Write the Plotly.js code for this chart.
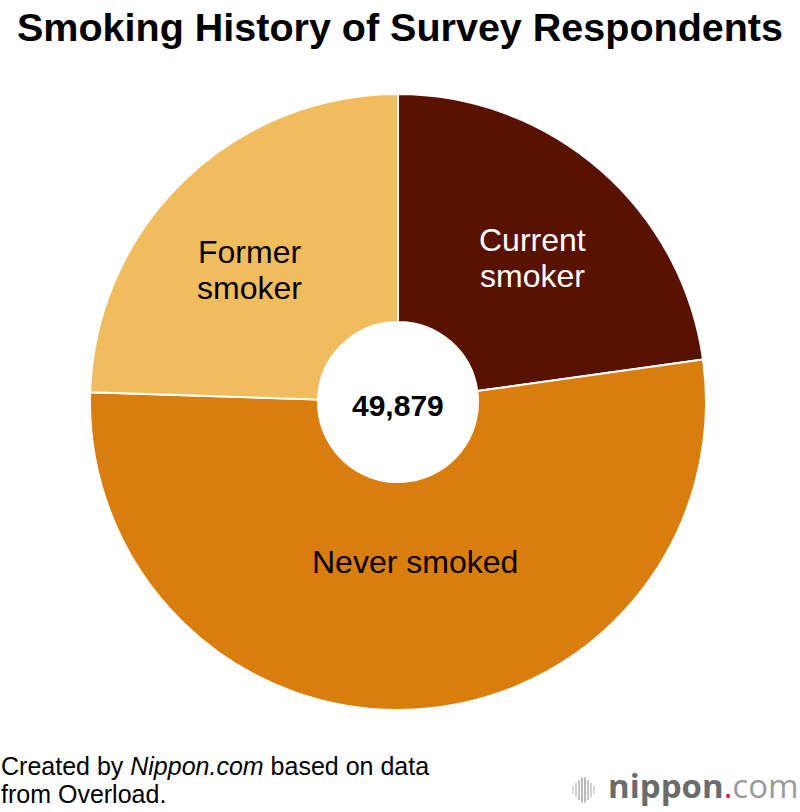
<!DOCTYPE html>
<html>
<head>
<meta charset="utf-8">
<script src="https://cdn.plot.ly/plotly-3.0.1.min.js"></script>
<style>body{margin:0;background:#fff}#chart{width:800px;height:812px}</style>
</head>
<body>
<div id="chart"></div>
<script>
const categories = ["Current smoker", "Never smoked", "Former smoker"];
const shares = [22.8, 52.7, 24.5];
const sliceColors = ["#5a1200", "#d97d0d", "#f0bc5e"];
const totalRespondents = "49,879";
const titleText = "Smoking History of Survey Respondents";

const trace = {
  type: "pie",
  labels: categories,
  values: shares,
  sort: false,
  direction: "clockwise",
  rotation: 0,
  hole: 0.26,
  marker: {colors: sliceColors, line: {color: "#ffffff", width: 2}},
  textinfo: "none",
  hoverinfo: "label+value",
  showlegend: false
};

// pixel -> paper helpers for the 616px plot area (l=90, t=94)
const PX = px => (px - 90) / 616;
const PY = py => (710 - py) / 616;

const F = "Liberation Sans, Arial, Helvetica, sans-serif";

// decorative logo bars
const bars = [[573, 8], [576, 14], [579, 20], [582, 25], [585, 25], [588, 20], [591, 14], [594, 8]];
const barColors = ["#d2d2d2", "#c6c6c6", "#b8b8b8", "#a8a8a8", "#a8a8a8", "#b8b8b8", "#c6c6c6", "#d2d2d2"];
const shapes = bars.map((b, i) => ({
  type: "line", xref: "paper", yref: "paper",
  x0: PX(b[0]), x1: PX(b[0]), y0: PY(790 - b[1] / 2), y1: PY(790 + b[1] / 2),
  line: {color: barColors[i], width: 1.6}
}));

const ann = (text, px, py, size, color, extra) => Object.assign({
  text: text, x: PX(px), y: PY(py), xref: "paper", yref: "paper",
  xanchor: "center", yanchor: "middle", showarrow: false,
  font: {family: F, size: size, color: color}
}, extra || {});

const layout = {
  width: 800, height: 812,
  margin: {l: 90, r: 94, t: 94, b: 102},
  paper_bgcolor: "#ffffff",
  title: {text: "<b>" + titleText + "</b>", x: 0.5, xanchor: "center", y: 0.967, yanchor: "middle",
          font: {family: F, size: 39.5, color: "#000"}},
  shapes: shapes,
  annotations: [
    ann("Current", 532, 240, 32, "#ffffff"),
    ann("smoker", 532, 276, 32, "#ffffff"),
    ann("Former", 250, 252, 32, "#000"),
    ann("smoker", 250, 288, 32, "#000"),
    ann("Never smoked", 415, 562, 32, "#000"),
    ann("<b>" + totalRespondents + "</b>", 398, 405, 30, "#000"),
    ann("Created by <i>Nippon.com</i> based on data", -1, 766, 25, "#000", {xanchor: "left", align: "left"}),
    ann("from Overload.", -1, 794, 25, "#000", {xanchor: "left", align: "left"}),
    ann("<b>nippon</b><span style=\"color:#e8192c\">.</span><span style=\"color:#9a9a9a\">com</span>",
        801, 785, 33, "#6b6b6b", {xanchor: "right", font: {family: "Open Sans, sans-serif", size: 33, color: "#6b6b6b"}})
  ]
};

Plotly.newPlot("chart", [trace], layout, {displayModeBar: false, staticPlot: true});
</script>
</body>
</html>
